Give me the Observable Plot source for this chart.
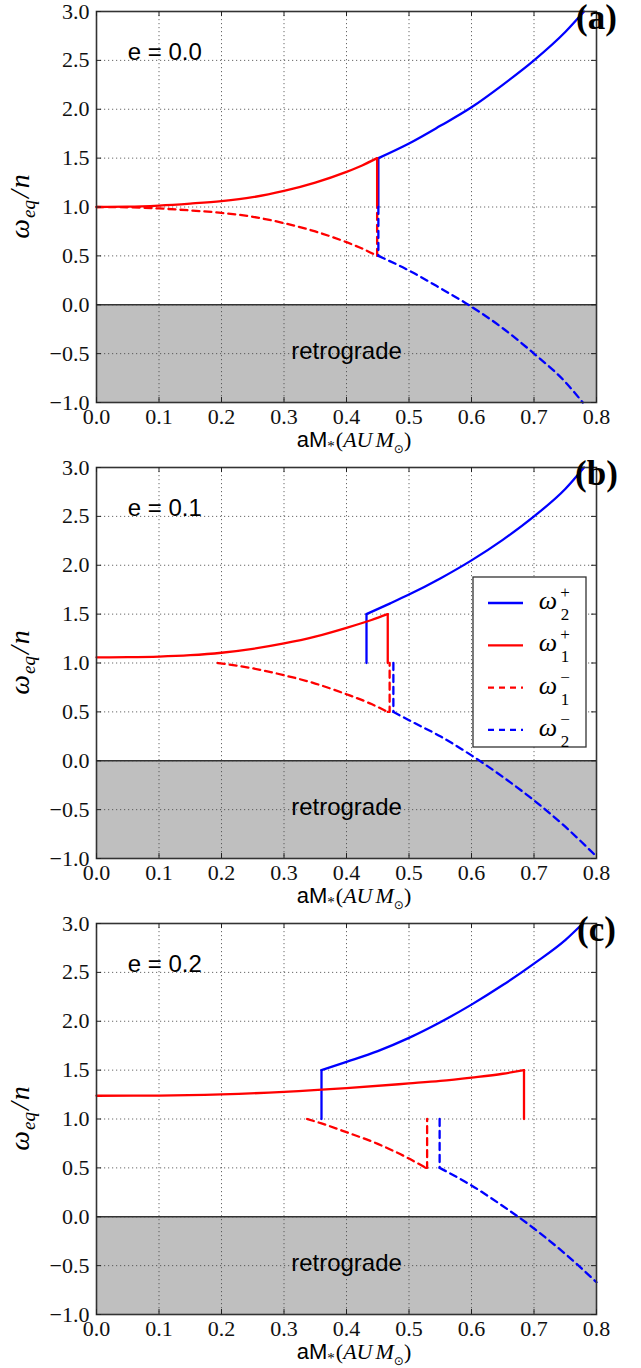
<!DOCTYPE html>
<html><head><meta charset="utf-8">
<script src="https://cdn.jsdelivr.net/npm/d3@7"></script>
<script src="https://cdn.jsdelivr.net/npm/@observablehq/plot@0.6"></script>
<style>
body{margin:0;background:#fff;}
#chart svg{display:block;}
</style></head><body><div id="chart"></div>
<script>
// ---------- data ----------
const xDomain = [0, 0.8];
const yDomain = [-1, 3];
const xTicks = [0, 0.1, 0.2, 0.3, 0.4, 0.5, 0.6, 0.7, 0.8];
const yTicks = [-1, -0.5, 0, 0.5, 1, 1.5, 2, 2.5, 3];
const retrogradeBand = [-1, 0];
const panelLabels = ["(a)", "(b)", "(c)"];
const eccLabels = ["e = 0.0", "e = 0.1", "e = 0.2"];
const legendNames = [["ω","+","2"], ["ω","+","1"], ["ω","−","1"], ["ω","−","2"]];

// panel (a), e = 0.0  (curves + vertical jumps)
const a_w1plus  = [[0,1.0],[0.05,1.003],[0.1,1.015],[0.15,1.035],[0.2,1.06],[0.25,1.1],[0.3,1.165],[0.35,1.25],[0.4,1.36],[0.425,1.425],[0.449,1.5]];
const a_w1plus_jump  = [[0.449,1.5],[0.449,1.0]];
const a_w1minus = [[0,1.0],[0.05,0.997],[0.1,0.985],[0.15,0.965],[0.2,0.94],[0.25,0.9],[0.3,0.835],[0.35,0.75],[0.4,0.64],[0.425,0.575],[0.449,0.5]];
const a_w1minus_jump = [[0.449,0.5],[0.449,1.0]];
const a_w2plus  = [[0.451,1.5],[0.5,1.65],[0.55,1.83],[0.6,2.02],[0.65,2.25],[0.7,2.5],[0.75,2.79],[0.78,3.0]];
const a_w2plus_jump  = [[0.451,1.0],[0.451,1.5]];
const a_w2minus = [[0.451,0.5],[0.5,0.35],[0.55,0.17],[0.6,-0.02],[0.65,-0.24],[0.7,-0.5],[0.75,-0.79],[0.778,-1.0]];
const a_w2minus_jump = [[0.451,1.0],[0.451,0.5]];

// panel (b), e = 0.1
const b_w1plus  = [[0,1.058],[0.05,1.06],[0.1,1.066],[0.15,1.08],[0.2,1.105],[0.25,1.145],[0.3,1.2],[0.35,1.27],[0.4,1.36],[0.44,1.44],[0.466,1.5]];
const b_w1plus_jump  = [[0.466,1.5],[0.466,1.0]];
const b_w1minus = [[0.194,1.0],[0.25,0.945],[0.3,0.875],[0.35,0.79],[0.4,0.68],[0.44,0.58],[0.466,0.5]];
const b_w1minus_jump = [[0.466,0.5],[0.469,0.5],[0.469,1.0]];
const b_w2plus  = [[0.432,1.5],[0.47,1.61],[0.5,1.7],[0.55,1.865],[0.6,2.05],[0.65,2.26],[0.7,2.5],[0.75,2.78],[0.78,3.0]];
const b_w2plus_jump  = [[0.432,1.0],[0.432,1.5]];
const b_w2minus = [[0.475,0.5],[0.5,0.415],[0.55,0.25],[0.6,0.055],[0.65,-0.165],[0.7,-0.405],[0.75,-0.675],[0.8,-0.98]];
const b_w2minus_jump = [[0.475,1.0],[0.475,0.5]];

// panel (c), e = 0.2
const c_w1plus  = [[0,1.238],[0.1,1.24],[0.2,1.252],[0.3,1.277],[0.4,1.315],[0.5,1.364],[0.55,1.39],[0.6,1.424],[0.65,1.463],[0.684,1.5]];
const c_w1plus_jump  = [[0.684,1.5],[0.684,1.0]];
const c_w1minus = [[0.337,1.0],[0.36,0.955],[0.4,0.865],[0.45,0.745],[0.5,0.595],[0.527,0.5]];
const c_w1minus_jump = [[0.527,0.5],[0.529,0.5],[0.529,1.0]];
const c_w2plus  = [[0.36,1.5],[0.4,1.585],[0.45,1.695],[0.5,1.83],[0.55,1.99],[0.6,2.17],[0.65,2.37],[0.7,2.59],[0.75,2.83],[0.778,3.0]];
const c_w2plus_jump  = [[0.36,1.0],[0.36,1.5]];
const c_w2minus = [[0.549,0.5],[0.6,0.32],[0.65,0.11],[0.7,-0.12],[0.75,-0.38],[0.8,-0.67]];
const c_w2minus_jump = [[0.549,1.0],[0.549,0.5]];

const panels = [
  {curves: [a_w2plus, a_w1plus, a_w1minus, a_w2minus], jumps: [a_w2plus_jump, a_w1plus_jump, a_w1minus_jump, a_w2minus_jump]},
  {curves: [b_w2plus, b_w1plus, b_w1minus, b_w2minus], jumps: [b_w2plus_jump, b_w1plus_jump, b_w1minus_jump, b_w2minus_jump]},
  {curves: [c_w2plus, c_w1plus, c_w1minus, c_w2minus], jumps: [c_w2plus_jump, c_w1plus_jump, c_w1minus_jump, c_w2minus_jump]}
];

// ---------- layout / style ----------
const W = 641, H = 456, mL = 96, mR = 45, mT = 11, mB = 54;
const plotW = W - mL - mR, plotH = H - mT - mB;
const BLUE = "#0000ff", RED = "#ff0000";
const DASH = "7,5";
const LW = 2.3;
const SANS = "'Liberation Sans', Arial, Helvetica, sans-serif";
const SERIF = "'Liberation Serif', 'Times New Roman', serif";
const styles = [
  {stroke: BLUE, dash: null},
  {stroke: RED, dash: null},
  {stroke: RED, dash: DASH},
  {stroke: BLUE, dash: DASH}
];

const chart = document.getElementById("chart");

panels.forEach((p, i) => {
  const lineMarks = [];
  p.curves.forEach((data, k) => {
    lineMarks.push(Plot.line(p.jumps[k], {x: d => d[0], y: d => d[1], stroke: styles[k].stroke, strokeWidth: LW,
      strokeDasharray: styles[k].dash, curve: "linear"}));
    lineMarks.push(Plot.line(data, {x: d => d[0], y: d => d[1], stroke: styles[k].stroke, strokeWidth: LW,
      strokeDasharray: styles[k].dash, curve: "monotone-x"}));
  });
  const plot = Plot.plot({
    width: W, height: H,
    marginLeft: mL, marginRight: mR, marginTop: mT, marginBottom: mB,
    style: {fontFamily: SERIF, fontSize: "22px", background: "#fff", color: "#111"},
    x: {domain: xDomain},
    y: {domain: yDomain},
    marks: [
      Plot.rect([retrogradeBand], {x1: xDomain[0], x2: xDomain[1], y1: d => d[0], y2: d => d[1], fill: "#bfbfbf"}),
      Plot.gridX(xTicks, {stroke: "#444", strokeOpacity: 0.8, strokeDasharray: "1.2,2.8", strokeWidth: 1}),
      Plot.gridY(yTicks, {stroke: "#444", strokeOpacity: 0.8, strokeDasharray: "1.2,2.8", strokeWidth: 1}),
      Plot.ruleY([retrogradeBand[1]], {stroke: "#333", strokeWidth: 1.4}),
      ...lineMarks,
      Plot.frame({stroke: "#333", strokeWidth: 1.6}),
      Plot.tickX(xTicks, {x: d => d, insetTop: plotH - 5, stroke: "#222"}),
      Plot.tickX(xTicks, {x: d => d, insetBottom: plotH - 5, stroke: "#222"}),
      Plot.tickY(yTicks, {y: d => d, insetRight: plotW - 5, stroke: "#222"}),
      Plot.tickY(yTicks, {y: d => d, insetLeft: plotW - 5, stroke: "#222"}),
      Plot.axisX(xTicks, {tickSize: 0, tickPadding: 6, tickFormat: d3.format(".1f"), label: null,
        fontFamily: SERIF, fontSize: 22, fill: "#111"}),
      Plot.axisY(yTicks, {tickSize: 0, tickPadding: 7, tickFormat: d3.format(".1f"), label: null,
        fontFamily: SERIF, fontSize: 22, fill: "#111"}),
      Plot.text([eccLabels[i]], {x: 0.05, y: 2.5, text: d => d, textAnchor: "start", lineAnchor: "bottom",
        fontFamily: SANS, fontSize: 24, fill: "#000"}),
      Plot.text(["retrograde"], {x: 0.4, y: -0.5, text: d => d, textAnchor: "middle", lineAnchor: "bottom", dy: 5,
        fontFamily: SANS, fontSize: 24, fill: "#000"}),
      Plot.text([panelLabels[i]], {frameAnchor: "top-right", text: d => d, textAnchor: "middle", lineAnchor: "bottom",
        dy: 17, fontFamily: SERIF, fontWeight: "bold", fontSize: 35, fill: "#000"})
    ]
  });
  const svg = d3.select(plot);
  svg.attr("overflow", "visible");

  // x-axis label: aM_*(AU M_⊙)
  const xl = svg.append("text").attr("x", mL + plotW / 2 + 8).attr("y", 447)
    .attr("text-anchor", "middle").attr("font-size", 22).attr("fill", "#000");
  xl.append("tspan").attr("font-family", SANS).text("aM");
  xl.append("tspan").attr("font-family", SERIF).attr("font-size", 15).attr("dy", 4).text("*");
  xl.append("tspan").attr("font-family", SERIF).attr("dy", -4).attr("dx", 1).text("(");
  xl.append("tspan").attr("font-family", SERIF).attr("font-style", "italic").text("AU");
  xl.append("tspan").attr("font-family", SERIF).attr("font-style", "italic").attr("dx", 3).text("M");
  xl.append("tspan").attr("font-family", "'DejaVu Sans', sans-serif").attr("font-size", 12).attr("dy", 6).text("⊙");
  xl.append("tspan").attr("font-family", SERIF).attr("dy", -6).text(")");

  // y-axis label: ω_eq / n
  const yl = svg.append("text").attr("transform", `translate(29, ${mT + plotH / 2}) rotate(-90)`)
    .attr("text-anchor", "middle").attr("font-family", SERIF).attr("font-style", "italic")
    .attr("font-size", 28).attr("fill", "#000");
  yl.append("tspan").text("ω");
  yl.append("tspan").attr("font-size", 19).attr("dy", 6).attr("dx", 1).text("eq");
  yl.append("tspan").attr("dy", -6).attr("dx", 2).text("/");
  yl.append("tspan").attr("dx", 2).text("n");

  // legend in panel (b)
  if (i === 1) {
    const bx = mL + plotW - 10 - 113, by = 121, bw = 113, bh = 170;
    const g = svg.append("g");
    g.append("rect").attr("x", bx).attr("y", by).attr("width", bw).attr("height", bh)
      .attr("fill", "#fff").attr("stroke", "#333").attr("stroke-width", 1.3);
    legendNames.forEach((nm, k) => {
      const ry = by + 26 + k * 42.3;
      g.append("line").attr("x1", bx + 15).attr("x2", bx + 50).attr("y1", ry).attr("y2", ry)
        .attr("stroke", styles[k].stroke).attr("stroke-width", LW)
        .attr("stroke-dasharray", styles[k].dash ? "6,5" : null);
      g.append("text").attr("x", bx + 75).attr("y", ry + 6).attr("font-family", SERIF)
        .attr("font-style", "italic").attr("font-size", 26).attr("fill", "#000").text(nm[0]);
      g.append("text").attr("x", bx + 92).attr("y", ry - 5).attr("font-family", SERIF)
        .attr("font-size", 17).attr("fill", "#000").text(nm[1]);
      g.append("text").attr("x", bx + 92).attr("y", ry + 17).attr("font-family", SERIF)
        .attr("font-size", 17).attr("fill", "#000").text(nm[2]);
    });
  }
  chart.appendChild(plot);
});
</script>
</body></html>
